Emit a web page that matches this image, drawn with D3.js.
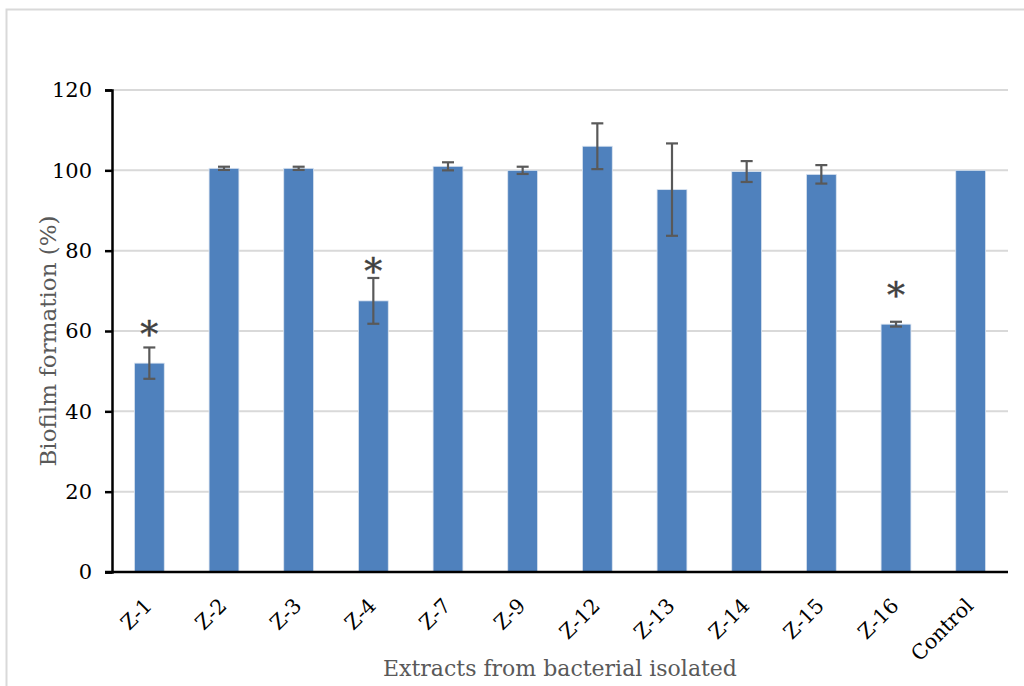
<!DOCTYPE html>
<html>
<head>
<meta charset="utf-8">
<script src="https://cdn.jsdelivr.net/npm/d3@7"></script>
<style>
  html, body { margin: 0; padding: 0; background: #fff; }
  svg { display: block; }
</style>
</head>
<body>
<svg id="chart" width="1024" height="686"></svg>
<script>
// Biofilm formation (%) for extracts of each bacterial isolate
const categories = ["Z-1", "Z-2", "Z-3", "Z-4", "Z-7", "Z-9", "Z-12", "Z-13", "Z-14", "Z-15", "Z-16", "Control"];
const values     = [52.0, 100.5, 100.5, 67.5, 101.0, 100.0, 106.0, 95.2, 99.7, 99.0, 61.7, 100.0];
const errors     = [3.9, 0.4, 0.4, 5.7, 1.0, 0.9, 5.7, 11.5, 2.6, 2.3, 0.6, 0];
const significant = ["Z-1", "Z-4", "Z-16"];
const yTicks = [0, 20, 40, 60, 80, 100, 120];

const svg = d3.select("#chart");
const serif = "'DejaVu Serif', serif";

// outer chart frame
svg.append("rect")
  .attr("x", 6.5).attr("y", 9.5)
  .attr("width", 1040).attr("height", 700)
  .attr("fill", "#fff").attr("stroke", "#d9d9d9").attr("stroke-width", 2);

const margin = { left: 112, right: 1008, top: 90, bottom: 572 };

const x = d3.scaleBand()
  .domain(categories)
  .range([margin.left, margin.right])
  .paddingInner(0.6)
  .paddingOuter(0.3);

const y = d3.scaleLinear()
  .domain([0, 120])
  .range([margin.bottom, margin.top]);

// horizontal gridlines
svg.append("g")
  .selectAll("line")
  .data(yTicks.filter(d => d > 0))
  .join("line")
  .attr("x1", margin.left).attr("x2", margin.right)
  .attr("y1", d => y(d)).attr("y2", d => y(d))
  .attr("stroke", "#d9d9d9").attr("stroke-width", 2);

// bars
svg.append("g")
  .selectAll("rect")
  .data(categories)
  .join("rect")
  .attr("x", d => x(d))
  .attr("width", x.bandwidth())
  .attr("y", (d, i) => y(values[i]))
  .attr("height", (d, i) => y(0) - y(values[i]))
  .attr("fill", "#4f81bd")
  .attr("stroke", "#dbe5f1").attr("stroke-width", 0.8);

// error bars
const eb = svg.append("g").attr("stroke", "#595959").attr("stroke-width", 2.2);
categories.forEach((c, i) => {
  if (!errors[i]) return;
  const cx = x(c) + x.bandwidth() / 2;
  const hi = y(values[i] + errors[i]), lo = y(values[i] - errors[i]);
  eb.append("line").attr("x1", cx).attr("x2", cx).attr("y1", hi).attr("y2", lo);
  eb.append("line").attr("x1", cx - 6).attr("x2", cx + 6).attr("y1", hi).attr("y2", hi);
  eb.append("line").attr("x1", cx - 6).attr("x2", cx + 6).attr("y1", lo).attr("y2", lo);
});

// significance markers, centred a fixed gap above each error bar
const starGap = { "Z-1": 21, "Z-4": 15, "Z-16": 35 };
svg.append("g")
  .selectAll("text")
  .data(significant)
  .join("text")
  .attr("x", d => x(d) + x.bandwidth() / 2)
  .attr("y", d => {
    const i = categories.indexOf(d);
    return y(values[i] + errors[i]) - starGap[d] + 21;
  })
  .attr("text-anchor", "middle")
  .attr("font-family", serif)
  .attr("font-size", 36)
  .attr("fill", "#404040")
  .attr("stroke", "#404040").attr("stroke-width", 0.4)
  .text("*");

// y axis
const yAxis = svg.append("g")
  .attr("transform", `translate(${margin.left},0)`)
  .call(d3.axisLeft(y).tickValues(yTicks).tickSize(7).tickPadding(13));
yAxis.select(".domain").attr("stroke", "#000").attr("stroke-width", 2.5);
yAxis.selectAll(".tick line").attr("stroke", "#000").attr("stroke-width", 2.5);
yAxis.selectAll(".tick text")
  .attr("font-family", serif).attr("font-size", 21).attr("fill", "#000");

// x axis
const xAxis = svg.append("g")
  .attr("transform", `translate(0,${margin.bottom})`)
  .call(d3.axisBottom(x).tickSize(0).tickPadding(0));
xAxis.select(".domain")
  .attr("d", `M${margin.left - 7},0H${margin.right}`)
  .attr("stroke", "#000").attr("stroke-width", 2.5);
xAxis.selectAll(".tick text")
  .attr("font-family", serif).attr("font-size", 20.5).attr("fill", "#000")
  .attr("text-anchor", "end")
  .attr("dy", 0)
  .attr("y", 0)
  .attr("transform", "translate(4,35) rotate(-45)");

// axis titles
svg.append("text")
  .attr("x", (margin.left + margin.right) / 2)
  .attr("y", 676)
  .attr("text-anchor", "middle")
  .attr("font-family", serif).attr("font-size", 22).attr("fill", "#595959")
  .text("Extracts from bacterial isolated");

svg.append("text")
  .attr("transform", `translate(56,341) rotate(-90)`)
  .attr("text-anchor", "middle")
  .attr("font-family", serif).attr("font-size", 23).attr("fill", "#595959")
  .text("Biofilm formation (%)");
</script>
</body>
</html>
